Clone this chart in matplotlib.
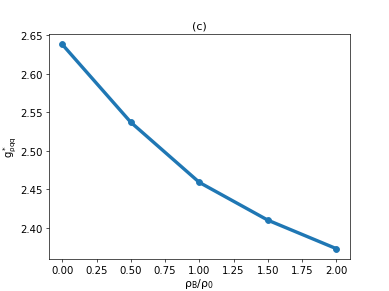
import matplotlib
matplotlib.use("Agg")
import matplotlib.pyplot as plt

# density ratio and coupling values
rho_ratio = [0.0, 0.5, 1.0, 1.5, 2.0]
g_rho = [2.638, 2.537, 2.459, 2.410, 2.373]

fig = plt.figure(figsize=(6.4, 4.8), dpi=389 / 6.4)
ax = fig.add_subplot(111)
ax.plot(rho_ratio, g_rho, marker='o', color='#1f77b4', linewidth=4, markersize=7)

ax.set_title('(c)', fontsize=13)
ax.set_xlabel(r'$\mathregular{\rho_B/\rho_0}$', fontsize=13, labelpad=2)
ax.set_ylabel(r'$\mathregular{g^*_{\rho qq}}$', fontsize=12, labelpad=1)
ax.set_xticks([0, 0.25, 0.5, 0.75, 1.0, 1.25, 1.5, 1.75, 2.0])
ax.tick_params(labelsize=12)

fig.savefig('out.png', dpi=389 / 6.4)
